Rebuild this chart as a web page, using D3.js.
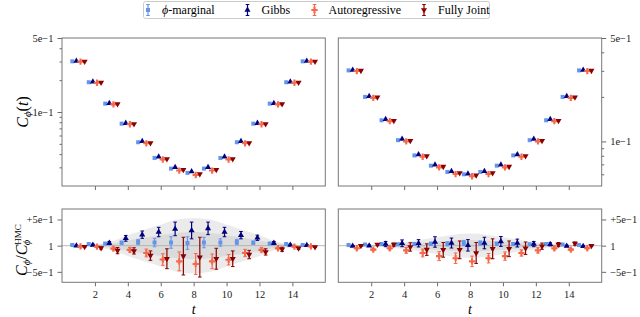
<!DOCTYPE html>
<html>
<head>
<meta charset="utf-8">
<script src="https://cdn.jsdelivr.net/npm/d3@7"></script>
<style>
body { margin: 0; background: #fff; }
</style>
</head>
<body>
<script>
// time slices
var tVals = [1, 2, 3, 4, 5, 6, 7, 8, 9, 10, 11, 12, 13, 14, 15];
var xTicks = [2, 4, 6, 8, 10, 12, 14];

// correlator, left panel
var margTL = [0.301, 0.191, 0.120, 0.0776, 0.0518, 0.0368, 0.0292, 0.0266, 0.0292, 0.0368, 0.0518, 0.0776, 0.120, 0.191, 0.301];
var gibbsTL = [0.303, 0.193, 0.121, 0.0785, 0.0528, 0.0378, 0.0301, 0.0274, 0.0301, 0.0378, 0.0528, 0.0785, 0.121, 0.193, 0.303];
var autoTL = [0.299, 0.189, 0.118, 0.0766, 0.0506, 0.0356, 0.0280, 0.0254, 0.0280, 0.0356, 0.0506, 0.0766, 0.118, 0.189, 0.299];
var jointTL = [0.300, 0.190, 0.119, 0.0770, 0.0510, 0.0360, 0.0285, 0.0259, 0.0285, 0.0360, 0.0510, 0.0770, 0.119, 0.190, 0.300];

// correlator, right panel
var margTR = [0.302, 0.200, 0.139, 0.102, 0.0805, 0.0686, 0.0622, 0.0600, 0.0622, 0.0686, 0.0805, 0.102, 0.139, 0.200, 0.302];
var gibbsTR = [0.304, 0.202, 0.141, 0.104, 0.0815, 0.0695, 0.0630, 0.0606, 0.0630, 0.0695, 0.0815, 0.104, 0.141, 0.202, 0.304];
var autoTR = [0.299, 0.197, 0.137, 0.100, 0.0788, 0.0668, 0.0602, 0.0582, 0.0602, 0.0668, 0.0788, 0.100, 0.137, 0.197, 0.299];
var jointTR = [0.301, 0.199, 0.138, 0.101, 0.0798, 0.0676, 0.0612, 0.0592, 0.0612, 0.0676, 0.0798, 0.101, 0.138, 0.199, 0.301];

// ratio to HMC (minus one), left panel
var margBL = [0.013, 0.03, 0.04, 0.057, 0.07, 0.06, 0.06, 0.05, 0.06, 0.06, 0.07, 0.057, 0.04, 0.03, 0.013];
var margBLerr = [0.01, 0.015, 0.02, 0.03, 0.05, 0.08, 0.11, 0.12, 0.1, 0.07, 0.05, 0.03, 0.02, 0.015, 0.01];
var gibbsBL = [0.0, 0.013, 0.05, 0.14, 0.21, 0.26, 0.32, 0.29, 0.33, 0.26, 0.2, 0.15, 0.05, 0.013, 0.006];
var gibbsBLerr = [0.01, 0.015, 0.03, 0.055, 0.07, 0.09, 0.13, 0.16, 0.12, 0.09, 0.07, 0.05, 0.03, 0.015, 0.01];
var autoBL = [-0.013, -0.02, -0.057, -0.08, -0.14, -0.265, -0.3, -0.35, -0.3, -0.27, -0.14, -0.08, -0.05, -0.02, -0.013];
var autoBLerr = [0.01, 0.015, 0.03, 0.045, 0.075, 0.11, 0.18, 0.2, 0.14, 0.1, 0.07, 0.04, 0.02, 0.015, 0.01];
var jointBL = [-0.02, -0.045, -0.095, -0.1, -0.19, -0.25, -0.2, -0.22, -0.25, -0.25, -0.17, -0.12, -0.07, -0.05, -0.025];
var jointBLerr = [0.01, 0.02, 0.06, 0.06, 0.09, 0.19, 0.36, 0.38, 0.2, 0.15, 0.08, 0.06, 0.04, 0.02, 0.01];

// ratio to HMC (minus one), right panel
var margBR = [0.013, 0.02, 0.03, 0.025, 0.03, 0.035, 0.035, 0.05, 0.05, 0.035, 0.03, 0.025, 0.03, 0.02, 0.013];
var margBRerr = [0.01, 0.01, 0.015, 0.02, 0.025, 0.03, 0.04, 0.05, 0.04, 0.03, 0.025, 0.02, 0.015, 0.01, 0.01];
var gibbsBR = [-0.006, 0.0, 0.03, 0.045, 0.045, 0.07, 0.05, 0.006, 0.05, 0.08, 0.05, 0.03, 0.025, -0.006, -0.012];
var gibbsBRerr = [0.01, 0.015, 0.05, 0.065, 0.07, 0.1, 0.095, 0.11, 0.11, 0.095, 0.075, 0.05, 0.03, 0.015, 0.01];
var autoBR = [-0.05, -0.076, -0.05, -0.09, -0.14, -0.2, -0.24, -0.3, -0.24, -0.2, -0.14, -0.09, -0.05, -0.076, -0.05];
var autoBRerr = [0.015, 0.02, 0.03, 0.055, 0.075, 0.085, 0.1, 0.1, 0.09, 0.08, 0.06, 0.05, 0.03, 0.02, 0.015];
var jointBR = [0.0, 0.02, 0.02, -0.025, -0.076, -0.08, -0.08, -0.14, -0.06, -0.06, -0.05, -0.01, 0.02, 0.04, 0.0];
var jointBRerr = [0.015, 0.02, 0.03, 0.08, 0.11, 0.14, 0.17, 0.2, 0.19, 0.15, 0.12, 0.06, 0.04, 0.03, 0.015];

// HMC uncertainty bands (half widths)
var bandOuterL = [0.01, 0.03, 0.08, 0.2, 0.3, 0.4, 0.5, 0.53, 0.5, 0.4, 0.3, 0.2, 0.08, 0.03, 0.01];
var bandInnerL = [0.005, 0.015, 0.04, 0.1, 0.15, 0.2, 0.24, 0.26, 0.24, 0.2, 0.15, 0.1, 0.04, 0.015, 0.005];
var bandOuterR = [0.005, 0.015, 0.03, 0.07, 0.11, 0.16, 0.21, 0.23, 0.21, 0.16, 0.11, 0.07, 0.03, 0.015, 0.005];
var bandInnerR = [0.003, 0.008, 0.015, 0.035, 0.055, 0.08, 0.1, 0.11, 0.1, 0.08, 0.055, 0.035, 0.015, 0.008, 0.003];

var seriesNames = ["\u03D5-marginal", "Gibbs", "Autoregressive", "Fully Joint"];

var FONT = "Liberation Serif";

var series = [
    { color: "#6495ED", symbol: d3.symbolSquare, size: 16, rot: 0, dx: -0.375 },
    { color: "#00007F", symbol: d3.symbolTriangle, size: 16, rot: 0, dx: -0.125 },
    { color: "#F5694B", symbol: d3.symbolCross, size: 22, rot: 0, dx: 0.125 },
    { color: "#8B0000", symbol: d3.symbolTriangle, size: 16, rot: 180, dx: 0.375 }
];

var svg = d3.select("body").append("svg").attr("width", 640).attr("height", 317)
    .attr("font-family", FONT);

var colL = [62, 325.3], colR = [338.3, 601.7];
var rowT = [38, 186], rowB = [209, 282.3];

var xL = d3.scaleLinear().domain([0, 16]).range(colL);
var xR = d3.scaleLinear().domain([0, 16]).range(colR);
var yTL = d3.scaleLog().domain([0.02, 0.5]).range([rowT[1], rowT[0]]);
var yTR = d3.scaleLog().domain([0.05, 0.5]).range([rowT[1], rowT[0]]);
var yBL = d3.scaleLinear().domain([-0.7, 0.7]).range([rowB[1], rowB[0]]);
var yBR = d3.scaleLinear().domain([-0.7, 0.7]).range([rowB[1], rowB[0]]);

function styleAxis(g) {
    g.attr("font-family", FONT).attr("font-size", 10.5);
    g.select(".domain").remove();
    g.selectAll(".tick line").attr("stroke", "#444").attr("stroke-width", 0.8);
    g.selectAll(".tick text").attr("fill", "#222").attr("font-family", FONT);
}

function frame(x, y) {
    var r = x.range(), s = y.range();
    svg.append("rect")
        .attr("x", r[0]).attr("y", s[1])
        .attr("width", r[1] - r[0]).attr("height", s[0] - s[1])
        .attr("fill", "none").attr("stroke", "#777").attr("stroke-width", 1);
}

function marker(g, s, cx, cy) {
    g.append("path")
        .attr("d", d3.symbol().type(s.symbol).size(s.size)())
        .attr("transform", "translate(" + cx + "," + cy + ") rotate(" + s.rot + ")")
        .attr("fill", s.color);
}

function points(x, y, vals, errs, clipId) {
    var g = svg.append("g");
    if (clipId) g.attr("clip-path", "url(#" + clipId + ")");
    vals.forEach(function (arr, k) {
        var s = series[k];
        arr.forEach(function (v, i) {
            var cx = x(tVals[i] + s.dx);
            var cy = y(v);
            if (errs) {
                var e = errs[k][i];
                var ya = y(v + e), yb = y(v - e);
                g.append("line").attr("x1", cx).attr("x2", cx).attr("y1", ya).attr("y2", yb)
                    .attr("stroke", s.color).attr("stroke-width", 1.2);
                [ya, yb].forEach(function (yy) {
                    g.append("line").attr("x1", cx - 1.8).attr("x2", cx + 1.8).attr("y1", yy).attr("y2", yy)
                        .attr("stroke", s.color).attr("stroke-width", 1);
                });
            }
            marker(g, s, cx, cy);
        });
    });
}

function bands(x, y, outer, inner, clipId) {
    var g = svg.append("g").attr("clip-path", "url(#" + clipId + ")");
    [outer, inner].forEach(function (b) {
        var area = d3.area()
            .x(function (d, i) { return x(tVals[i]); })
            .y0(function (d) { return y(-d); })
            .y1(function (d) { return y(d); })
            .curve(d3.curveMonotoneX);
        g.append("path").attr("d", area(b)).attr("fill", "#9a9a9a").attr("opacity", 0.2);
    });
    g.append("line").attr("x1", x.range()[0]).attr("x2", x.range()[1])
        .attr("y1", y(0)).attr("y2", y(0)).attr("stroke", "#aaa").attr("stroke-width", 0.8);
}

// clip paths
var defs = svg.append("defs");
[["clipBL", xL, yBL], ["clipBR", xR, yBR]].forEach(function (c) {
    var r = c[1].range(), s = c[2].range();
    defs.append("clipPath").attr("id", c[0]).append("rect")
        .attr("x", r[0]).attr("y", s[1]).attr("width", r[1] - r[0]).attr("height", s[0] - s[1]);
});

// top panels
var logMinorL = [0.03, 0.04, 0.05, 0.06, 0.07, 0.08, 0.09, 0.2, 0.3, 0.4];
var logMinorR = [0.06, 0.07, 0.08, 0.09, 0.2, 0.3, 0.4];
var logMajor = [0.1, 0.5];
var logFmt = function (d) { return d === 0.5 ? "5e\u22121" : "1e\u22121"; };

svg.append("g").attr("transform", "translate(" + colL[0] + ",0)")
    .call(d3.axisLeft(yTL).tickValues(logMajor).tickFormat(logFmt).tickSize(4.5).tickPadding(4)).call(styleAxis);
svg.append("g").attr("transform", "translate(" + colL[0] + ",0)")
    .call(d3.axisLeft(yTL).tickValues(logMinorL).tickFormat("").tickSize(2.5)).call(styleAxis);
svg.append("g").attr("transform", "translate(" + colR[1] + ",0)")
    .call(d3.axisRight(yTR).tickValues(logMajor).tickFormat(logFmt).tickSize(4.5).tickPadding(4)).call(styleAxis);
svg.append("g").attr("transform", "translate(" + colR[1] + ",0)")
    .call(d3.axisRight(yTR).tickValues(logMinorR).tickFormat("").tickSize(2.5)).call(styleAxis);

svg.append("g").attr("transform", "translate(0," + rowT[1] + ")")
    .call(d3.axisBottom(xL).tickValues(xTicks).tickFormat("").tickSize(4)).call(styleAxis);
svg.append("g").attr("transform", "translate(0," + rowT[1] + ")")
    .call(d3.axisBottom(xR).tickValues(xTicks).tickFormat("").tickSize(4)).call(styleAxis);

frame(xL, yTL);
frame(xR, yTR);
points(xL, yTL, [margTL, gibbsTL, autoTL, jointTL], null, null);
points(xR, yTR, [margTR, gibbsTR, autoTR, jointTR], null, null);

// bottom panels
var ratioTicks = [-0.5, 0, 0.5];
var ratioFmt = function (d) { return d === 0 ? "1" : (d > 0 ? "+5e\u22121" : "\u22125e\u22121"); };

bands(xL, yBL, bandOuterL, bandInnerL, "clipBL");
bands(xR, yBR, bandOuterR, bandInnerR, "clipBR");

svg.append("g").attr("transform", "translate(" + colL[0] + ",0)")
    .call(d3.axisLeft(yBL).tickValues(ratioTicks).tickFormat(ratioFmt).tickSize(4.5).tickPadding(4)).call(styleAxis);
svg.append("g").attr("transform", "translate(" + colR[1] + ",0)")
    .call(d3.axisRight(yBR).tickValues(ratioTicks).tickFormat(ratioFmt).tickSize(4.5).tickPadding(4)).call(styleAxis);
svg.append("g").attr("transform", "translate(0," + rowB[1] + ")")
    .call(d3.axisBottom(xL).tickValues(xTicks).tickSize(4).tickPadding(4)).call(styleAxis);
svg.append("g").attr("transform", "translate(0," + rowB[1] + ")")
    .call(d3.axisBottom(xR).tickValues(xTicks).tickSize(4).tickPadding(4)).call(styleAxis);

frame(xL, yBL);
frame(xR, yBR);
points(xL, yBL, [margBL, gibbsBL, autoBL, jointBL], [margBLerr, gibbsBLerr, autoBLerr, jointBLerr], "clipBL");
points(xR, yBR, [margBR, gibbsBR, autoBR, jointBR], [margBRerr, gibbsBRerr, autoBRerr, jointBRerr], "clipBR");

// axis titles
var lab1 = svg.append("text").attr("transform", "translate(28,112) rotate(-90)")
    .attr("text-anchor", "middle").attr("font-size", 16).attr("font-family", FONT);
lab1.append("tspan").attr("font-style", "italic").text("C");
lab1.append("tspan").attr("font-style", "italic").attr("font-size", 11).attr("dy", 3).text("\u03D5");
lab1.append("tspan").attr("dy", -3).text("(");
lab1.append("tspan").attr("font-style", "italic").text("t");
lab1.append("tspan").text(")");

var lab2 = svg.append("text").attr("transform", "translate(27,250) rotate(-90)")
    .attr("text-anchor", "middle").attr("font-size", 16).attr("font-family", FONT);
lab2.append("tspan").attr("font-style", "italic").text("C");
lab2.append("tspan").attr("font-style", "italic").attr("font-size", 10.5).attr("dy", 3).text("\u03D5");
lab2.append("tspan").attr("dy", -3).text("/");
lab2.append("tspan").attr("font-style", "italic").text("C");
lab2.append("tspan").attr("font-size", 9).attr("dy", -6).text("HMC");
lab2.append("tspan").attr("font-style", "italic").attr("font-size", 10.5).attr("dx", -21).attr("dy", 9).text("\u03D5");
lab2.append("tspan").attr("font-size", 9).attr("dx", 11).attr("dy", -3).text("\u00A0");

[xL, xR].forEach(function (x) {
    svg.append("text").attr("x", x(8)).attr("y", 313.5).attr("text-anchor", "middle")
        .attr("font-size", 14).attr("font-style", "italic").attr("font-family", FONT).text("t");
});

// legend
var leg = svg.append("g");
leg.append("rect").attr("x", 143.5).attr("y", 1.5).attr("width", 346).attr("height", 17)
    .attr("rx", 2).attr("fill", "#fff").attr("stroke", "#ccc").attr("stroke-width", 1);
var legX = [148, 247.5, 314.5, 424];
seriesNames.forEach(function (name, k) {
    var s = series[k];
    var cx = legX[k];
    leg.append("line").attr("x1", cx).attr("x2", cx).attr("y1", 4.5).attr("y2", 15.5)
        .attr("stroke", s.color).attr("stroke-width", 1.2);
    [4.5, 15.5].forEach(function (yy) {
        leg.append("line").attr("x1", cx - 1.8).attr("x2", cx + 1.8).attr("y1", yy).attr("y2", yy)
            .attr("stroke", s.color).attr("stroke-width", 1);
    });
    marker(leg, s, cx, 10);
    var tx = leg.append("text").attr("x", cx + 14).attr("y", 14).attr("font-size", 12)
        .attr("font-family", FONT);
    if (k === 0) {
        tx.append("tspan").attr("font-style", "italic").text("\u03D5");
        tx.append("tspan").text("-marginal");
    } else {
        tx.text(name);
    }
});
</script>
</body>
</html>
